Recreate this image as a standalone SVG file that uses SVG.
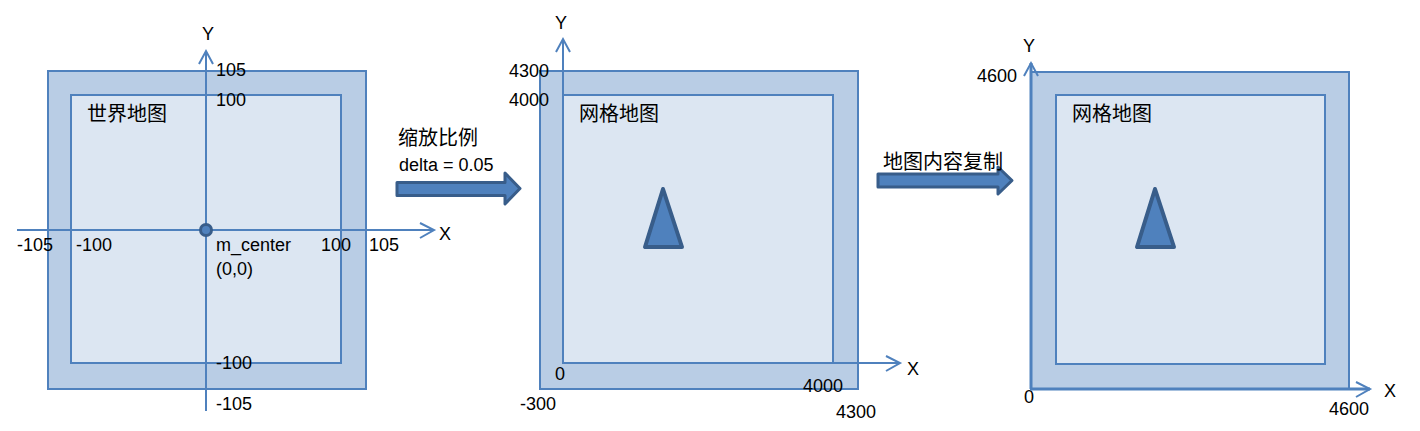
<svg xmlns="http://www.w3.org/2000/svg" width="1420" height="431" viewBox="0 0 1420 431">
<defs>
<style>
.outer{fill:#b9cde5;stroke:#4f81bd;stroke-width:2}
.inner{fill:#dce6f2;stroke:#4f81bd;stroke-width:2}
.axis{fill:none;stroke:#4f81bd;stroke-width:2}
.axis3{fill:none;stroke:#4f81bd;stroke-width:3}
.head{fill:none;stroke:#4f81bd;stroke-width:2;stroke-linejoin:miter}
.shape{fill:#4f81bd;stroke:#385d8a;stroke-width:3;stroke-linejoin:round}
.tri{fill:#4f81bd;stroke:#385d8a;stroke-width:4;stroke-linejoin:round}
.t{font-family:"Liberation Sans",Arial,sans-serif;font-size:18px;fill:#000}
.c{font-family:"Noto Sans CJK SC","Liberation Sans",sans-serif;font-size:20px;fill:#000}
</style>
</defs>
<rect width="1420" height="431" fill="#ffffff"/>

<g id="world-map">
<rect class="outer" x="48" y="71" width="318" height="318"/>
<rect class="inner" x="71" y="95" width="270" height="268"/>
<text class="c" x="87" y="121">世界地图</text>
</g>

<g id="grid-map">
<rect class="outer" x="540" y="71" width="318" height="318"/>
<rect class="inner" x="563" y="95" width="270" height="268"/>
<text class="c" x="579" y="121">网格地图</text>
<polygon class="tri" points="663,189 645,247 682,247"/>
</g>

<g id="grid-map-copy">
<rect class="outer" x="1031" y="72" width="318" height="317"/>
<rect class="inner" x="1056" y="95" width="269" height="269"/>
<text class="c" x="1072" y="121">网格地图</text>
<polygon class="tri" points="1155,189 1137,247 1174,247"/>
</g>

<g id="connectors">
<!-- panel 1 axes -->
<line class="axis" x1="206" y1="411" x2="206" y2="51"/>
<polyline class="head" points="199,64 206,51 213,64"/>
<line class="axis" x1="17" y1="230" x2="434" y2="230"/>
<polyline class="head" points="420,223 434,230 420,238"/>
<circle class="shape" cx="206" cy="230" r="5.5"/>
<!-- panel 2 axes -->
<line class="axis" x1="563" y1="363" x2="563" y2="39"/>
<polyline class="head" points="556,52 563,39 570,52"/>
<line class="axis" x1="563" y1="363" x2="900" y2="363"/>
<polyline class="head" points="886,356 900,363 886,371"/>
<!-- panel 3 axes -->
<line class="axis3" x1="1031" y1="389" x2="1031" y2="63"/>
<polyline class="head" points="1024,76 1031,63 1038,76"/>
<line class="axis3" x1="1031" y1="389" x2="1370" y2="389"/>
<polyline class="head" points="1356,382 1370,389 1356,397"/>
<!-- transform arrows -->
<polygon class="shape" points="397,182.5 505,182.5 505,173 520,188.5 505,204 505,195.5 397,195.5"/>
<polygon class="shape" points="878,174 998,174 998,167 1012,180.5 998,194 998,187 878,187"/>
</g>

<g id="labels">
<text class="t" x="208" y="40" text-anchor="middle">Y</text>
<text class="t" x="216" y="76">105</text>
<text class="t" x="216" y="106">100</text>
<text class="t" x="17" y="251">-105</text>
<text class="t" x="76" y="251">-100</text>
<text class="t" x="216" y="251">m_center</text>
<text class="t" x="216" y="275">(0,0)</text>
<text class="t" x="321" y="251">100</text>
<text class="t" x="369" y="251">105</text>
<text class="t" x="439" y="240">X</text>
<text class="t" x="216" y="369">-100</text>
<text class="t" x="216" y="410">-105</text>

<text class="c" x="398" y="145">缩放比例</text>
<text class="t" x="399" y="171">delta = 0.05</text>

<text class="t" x="561" y="29" text-anchor="middle">Y</text>
<text class="t" x="509" y="77">4300</text>
<text class="t" x="509" y="106">4000</text>
<text class="t" x="555" y="380">0</text>
<text class="t" x="803" y="392">4000</text>
<text class="t" x="520" y="410">-300</text>
<text class="t" x="836" y="418">4300</text>
<text class="t" x="907" y="375">X</text>

<text class="c" x="883" y="169">地图内容复制</text>

<text class="t" x="1029" y="52" text-anchor="middle">Y</text>
<text class="t" x="977" y="82">4600</text>
<text class="t" x="1024" y="403">0</text>
<text class="t" x="1329" y="415">4600</text>
<text class="t" x="1384" y="397">X</text>
</g>
</svg>
